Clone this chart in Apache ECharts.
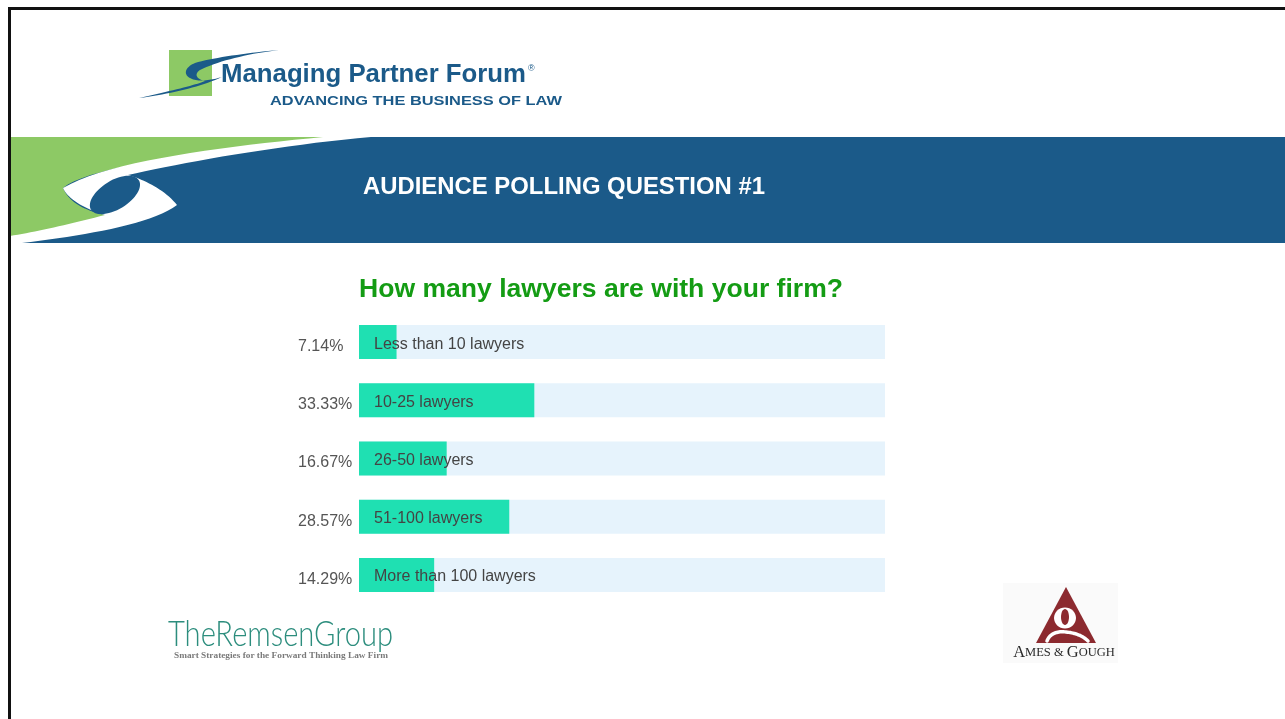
<!DOCTYPE html>
<html><head><meta charset="utf-8">
<script src="https://cdn.jsdelivr.net/npm/echarts@6/dist/echarts.min.js"></script>
<style>html,body{margin:0;padding:0;background:#fff}#c{width:1285px;height:719px}</style>
</head><body><div id="c"></div>
<script>
// ---- data ----
const categories = ['Less than 10 lawyers', '10-25 lawyers', '26-50 lawyers', '51-100 lawyers', 'More than 100 lawyers'];
const percentages = [7.14, 33.33, 16.67, 28.57, 14.29];
const trackValues = [100, 100, 100, 100, 100];
const percentLabels = ['7.14%', '33.33%', '16.67%', '28.57%', '14.29%'];
const chartTitle = 'How many lawyers are with your firm?';
const bannerTitle = 'AUDIENCE POLLING QUESTION #1';
const forumName = 'Managing Partner Forum';
const forumTagline = 'ADVANCING THE BUSINESS OF LAW';
const remsenName = 'TheRemsenGroup';
const remsenTagline = 'Smart Strategies for the Forward Thinking Law Firm';

// ---- styling ----
const BLUE = '#1b5a89', GREEN = '#8dc965', TEAL = '#1fe0b2', TRACK = '#e6f3fc';
const SANS = '"Liberation Sans", Arial, sans-serif';
const SERIF = '"Liberation Serif", "Times New Roman", serif';

const ctx = document.createElement('canvas').getContext('2d');
function fitScale(text, font, target) { ctx.font = font; return target / ctx.measureText(text).width; }

function txt(x, y, text, size, weight, family, fill, targetW) {
  const sx = targetW ? fitScale(text, weight + ' ' + size + 'px ' + family, targetW) : 1;
  return { type: 'text', x: x, y: y, scaleX: sx, z: 20,
    style: { text: text, fontSize: size, fontWeight: weight, fontFamily: family, fill: fill,
      align: 'left', verticalAlign: 'middle' } };
}
// decorative outline helper: "M x,y L x,y C x1,y1 x2,y2 x,y ..." -> points
function outline(d) {
  const tok = d.replace(/([MLCZ])/g, ' $1 ').replace(/,/g, ' ').trim().split(/\s+/);
  const pts = []; let i = 0, cmd = '', cx = 0, cy = 0;
  while (i < tok.length) {
    if (/[MLCZ]/.test(tok[i])) { cmd = tok[i++]; if (cmd === 'Z') continue; }
    if (cmd === 'M' || cmd === 'L') { cx = +tok[i++]; cy = +tok[i++]; pts.push([cx, cy]); }
    else if (cmd === 'C') {
      const x1 = +tok[i++], y1 = +tok[i++], x2 = +tok[i++], y2 = +tok[i++], x3 = +tok[i++], y3 = +tok[i++];
      for (let k = 1; k <= 20; k++) {
        const t = k / 20, u = 1 - t;
        pts.push([u*u*u*cx + 3*u*u*t*x1 + 3*u*t*t*x2 + t*t*t*x3, u*u*u*cy + 3*u*u*t*y1 + 3*u*t*t*y2 + t*t*t*y3]);
      }
      cx = x3; cy = y3;
    } else i++;
  }
  return pts;
}
function poly(d, fill, z) { return { type: 'polygon', shape: { points: outline(d) }, style: { fill: fill }, z: z }; }
function pline(d, stroke, w, z) { return { type: 'polyline', shape: { points: outline(d) }, style: { fill: 'none', stroke: stroke, lineWidth: w, lineCap: 'round' }, z: z }; }

const graphics = [
  // frame
  { type: 'rect', shape: { x: 8, y: 7, width: 1277, height: 3 }, style: { fill: '#111' }, z: 30 },
  { type: 'rect', shape: { x: 8, y: 7, width: 3, height: 712 }, style: { fill: '#111' }, z: 30 },
  // Managing Partner Forum logo
  { type: 'rect', shape: { x: 169, y: 50, width: 43, height: 46 }, style: { fill: GREEN }, z: 10 },
  poly('M289,49 C255,52 215,57 195,63 C185,67 182,75 192,79 C200,82 212,80 222,77 C200,87 170,94 139,98 C170,91 196,85 205,81 C196,79 194,74 200,70 C220,60 255,52 289,49 Z', BLUE, 11),
  txt(221, 75, forumName, 25, 'bold', SANS, BLUE, 305),
  txt(528, 69, '®', 9, 'normal', SANS, BLUE),
  txt(270, 102, forumTagline, 12, 'bold', SANS, BLUE, 292),
  // banner
  { type: 'rect', shape: { x: 10, y: 137, width: 1275, height: 106 }, style: { fill: BLUE }, z: 5 },
  poly('M10,137 L340,137 C220,150 90,165 63,188 C70,205 90,212 110,216 C70,225 40,232 10,238 Z', GREEN, 6),
  poly('M323,137 C230,146 110,160 63,188 C68,200 88,210 105,215 C70,224 35,232 10,236 L10,243 L22,243 C80,236 150,225 177,205 C165,190 145,180 128,175 C180,163 280,145 371,137 Z', '#fff', 7),
  { type: 'ellipse', shape: { cx: 115, cy: 195, rx: 28, ry: 14.5 }, rotation: 0.55, originX: 115, originY: 195, style: { fill: BLUE }, z: 8 },
  txt(363, 188, bannerTitle, 23, 'bold', SANS, '#ffffff', 402),
  // chart title
  txt(359, 290, chartTitle, 26, 'bold', SANS, '#149c14', 484),
  // Remsen logo
  txt(168, 634, remsenName, 36, '300', 'Lato, sans-serif', '#2c8d7d', 225),
  txt(174, 656, remsenTagline, 9, 'bold', SERIF, '#7a7a7a', 214),
  // Ames & Gough logo
  { type: 'rect', shape: { x: 1003, y: 583, width: 115, height: 80 }, style: { fill: '#fafafa' }, z: 9 },
  { type: 'polygon', shape: { points: [[1066, 587], [1096, 643], [1036, 643]] }, style: { fill: '#8c2a2f' }, z: 10 },
  { type: 'ellipse', shape: { cx: 1065, cy: 618, rx: 11, ry: 10.5 }, style: { fill: '#fff' }, z: 11 },
  { type: 'ellipse', shape: { cx: 1065, cy: 617, rx: 4, ry: 8 }, style: { fill: '#8c2a2f' }, z: 12 },
  pline('M1047,641 C1050,633 1058,631 1066,632 C1076,633 1083,636 1088,641', '#fff', 3.5, 12),
  { type: 'text', x: 1064, y: 653, z: 20,
    style: { text: '{b|A}{s|MES & }{b|G}{s|OUGH}', align: 'center', verticalAlign: 'middle',
      rich: { b: { fontSize: 16.5, fontFamily: SERIF, fill: '#2a2a2a' }, s: { fontSize: 12.5, fontFamily: SERIF, fill: '#2a2a2a' } } } }
];

const chart = echarts.init(document.getElementById('c'), null, { renderer: 'canvas' });
chart.setOption({
  backgroundColor: '#ffffff',
  animation: false,
  graphic: graphics,
  grid: { left: 359, top: 313, width: 526, height: 291, containLabel: false },
  xAxis: { type: 'value', min: 0, max: 100, show: false },
  yAxis: {
    type: 'category', data: categories, inverse: true,
    axisLine: { show: false }, axisTick: { show: false },
    axisLabel: {
      formatter: (v, i) => percentLabels[i], align: 'left', margin: 61,
      fontSize: 16, fontFamily: SANS, color: '#555', verticalAlign: 'top', lineHeight: 9
    }
  },
  series: [
    { type: 'bar', data: trackValues, barWidth: 34, barGap: '-100%', silent: true,
      itemStyle: { color: TRACK }, z: 1 },
    { type: 'bar', data: percentages, barWidth: 34, silent: true,
      itemStyle: { color: TEAL }, z: 2,
      label: { show: true, position: 'insideLeft', distance: 15, offset: [0, 2], formatter: '{b}',
        fontSize: 16, fontFamily: SANS, color: '#444' } }
  ]
});
</script></body></html>
